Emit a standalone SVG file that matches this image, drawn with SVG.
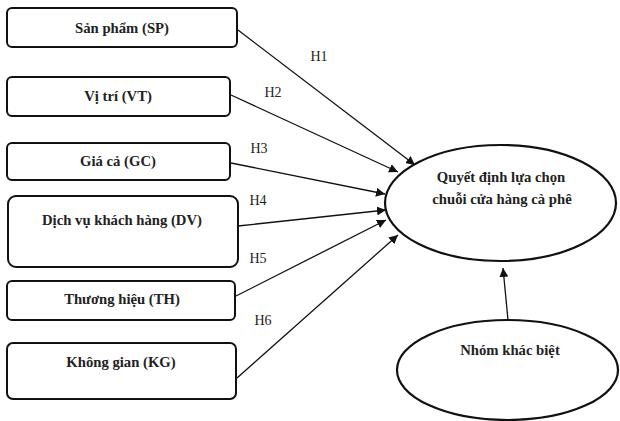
<svg xmlns="http://www.w3.org/2000/svg" width="620" height="421" viewBox="0 0 620 421">
<defs>
<marker id="arr" viewBox="0 0 10 10" refX="10" refY="5" markerWidth="9" markerHeight="9" markerUnits="userSpaceOnUse" orient="auto">
<path d="M0,0 L10,5 L0,10 z" fill="#111"/>
</marker>
</defs>
<style>
.box{fill:#fff;stroke:#111;stroke-width:2}
.ell{fill:#fff;stroke:#111;stroke-width:2.2}
.t{font-family:"Liberation Serif","Times New Roman",serif;font-size:14.7px;font-weight:bold;fill:#222;text-anchor:middle}
.h{font-family:"Liberation Serif","Times New Roman",serif;font-size:14px;fill:#222;text-anchor:middle}
.c{stroke:#111;stroke-width:1.3;fill:none;marker-end:url(#arr)}
</style>
<rect width="620" height="421" fill="#fff"/>
<g id="connectors">
<line class="c" x1="238" y1="30" x2="415" y2="165"/>
<line class="c" x1="231" y1="95" x2="398" y2="172"/>
<line class="c" x1="231" y1="163" x2="385" y2="194"/>
<line class="c" x1="238" y1="226" x2="386" y2="210"/>
<line class="c" x1="236" y1="296" x2="386" y2="220"/>
<line class="c" x1="237" y1="378" x2="398" y2="235"/>
<line class="c" x1="508" y1="320" x2="503" y2="268"/>
<text class="h" x="319" y="61">H1</text>
<text class="h" x="273" y="97">H2</text>
<text class="h" x="259" y="153">H3</text>
<text class="h" x="258" y="205">H4</text>
<text class="h" x="258" y="263">H5</text>
<text class="h" x="263" y="325">H6</text>
</g>
<g id="SP"><rect class="box" x="7" y="8" width="230" height="39" rx="5"/><text class="t" x="122" y="33">Sản phẩm (SP)</text></g>
<g id="VT"><rect class="box" x="7" y="77" width="223" height="39" rx="5"/><text class="t" x="118" y="101">Vị trí  (VT)</text></g>
<g id="GC"><rect class="box" x="7" y="143" width="223" height="37" rx="5"/><text class="t" x="118" y="166">Giá cả (GC)</text></g>
<g id="DV"><rect class="box" x="8" y="196" width="230" height="71" rx="8"/><text class="t" x="122" y="225">Dịch vụ khách hàng (DV)</text></g>
<g id="TH"><rect class="box" x="7" y="281" width="228" height="39" rx="5"/><text class="t" x="122" y="304">Thương hiệu (TH)</text></g>
<g id="KG"><rect class="box" x="7" y="343" width="229" height="56" rx="6"/><text class="t" x="121" y="367">Không gian (KG)</text></g>
<g id="QD"><ellipse class="ell" cx="500.5" cy="203" rx="115.5" ry="58"/><text class="t" x="501" y="182">Quyết định lựa chọn</text><text class="t" x="502" y="204">chuỗi cửa hàng cà phê</text></g>
<g id="NKB"><ellipse class="ell" cx="507.5" cy="370" rx="110.5" ry="50"/><text class="t" x="510" y="355">Nhóm khác biệt</text></g>
</svg>
